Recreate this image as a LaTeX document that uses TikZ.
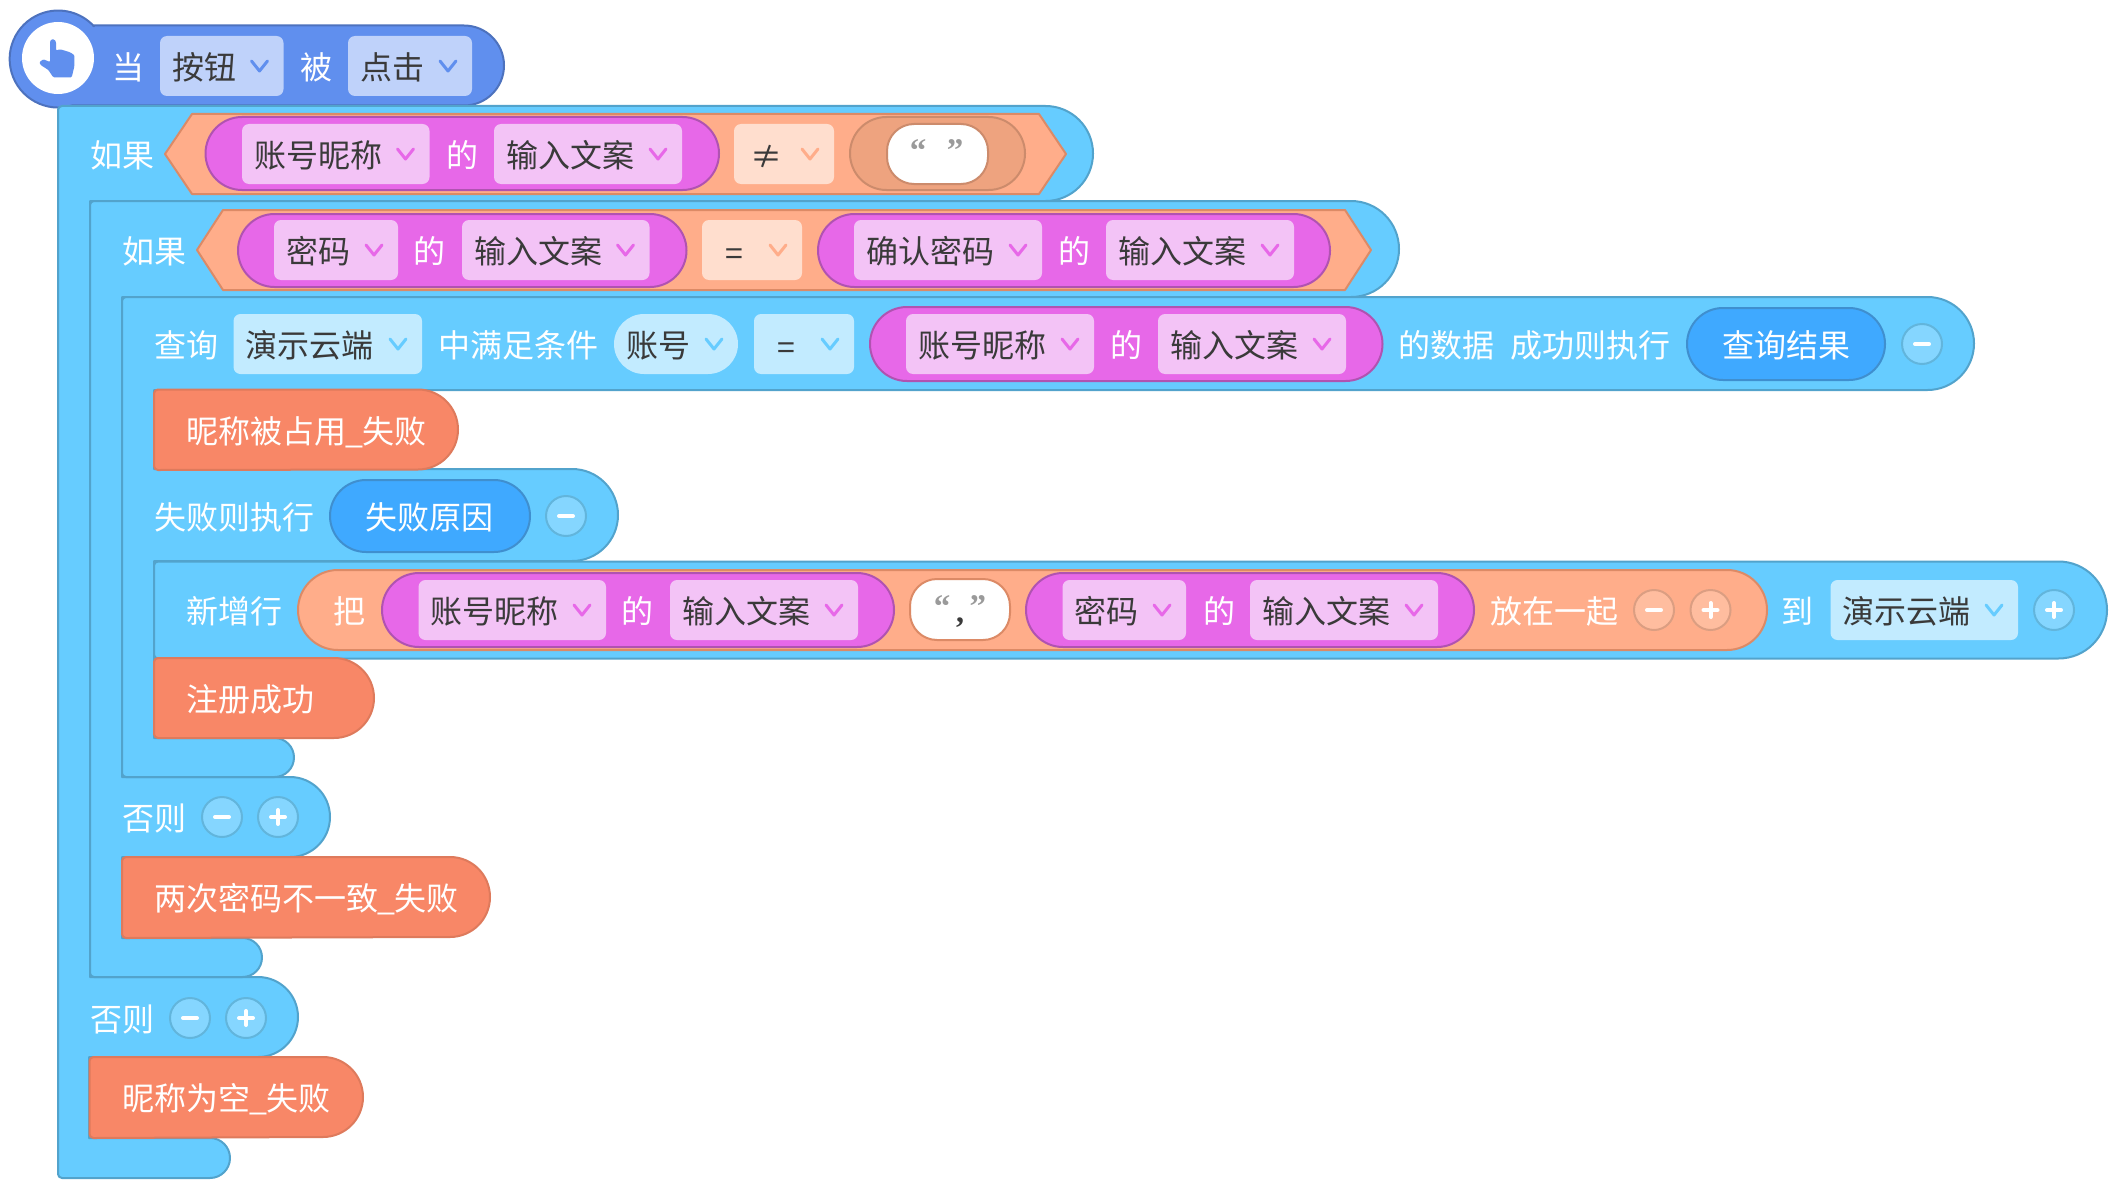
\documentclass[tikz,border=0pt]{standalone}
\usepackage{fontspec}
\setmainfont{Noto Sans CJK SC}
\newfontfamily\quotefont{Liberation Serif}
\definecolor{blockfill}{HTML}{66CCFF}
\definecolor{blockline}{HTML}{52A3CC}
\definecolor{hatfill}{HTML}{608FEE}
\definecolor{hatline}{HTML}{4D72BE}
\definecolor{hatdrop}{HTML}{BFD2FA}
\definecolor{orangefill}{HTML}{F88767}
\definecolor{orangeline}{HTML}{DE7A5C}
\definecolor{peachfill}{HTML}{FFAD8A}
\definecolor{peachline}{HTML}{DC8A66}
\definecolor{peachdrop}{HTML}{FFDECE}
\definecolor{peachdark}{HTML}{EEA37F}
\definecolor{peachdarkline}{HTML}{CC8B6C}
\definecolor{magfill}{HTML}{E768E8}
\definecolor{magline}{HTML}{B053B1}
\definecolor{magdrop}{HTML}{F3C3F6}
\definecolor{lightdrop}{HTML}{C2EBFF}
\definecolor{varfill}{HTML}{3FA9FF}
\definecolor{varline}{HTML}{3F8FCF}
\definecolor{btnfill}{HTML}{85D6FF}
\definecolor{btnline}{HTML}{62B5DC}
\definecolor{btnpeach}{HTML}{FFBD9F}
\definecolor{btnpeachline}{HTML}{DB9E82}
\definecolor{ink}{HTML}{3A3A3A}
\definecolor{quotegray}{HTML}{9A9A9A}
\newcounter{nd}
\tikzset{
  block/.style={fill=blockfill,draw=blockline,line width=2pt,line join=round},
  orangeblock/.style={fill=orangefill,draw=orangeline,line width=2pt,line join=round},
  hatblock/.style={fill=hatfill,draw=hatline,line width=2pt,line join=round},
  peachhex/.style={fill=peachfill,draw=peachline,line width=2pt,line join=round},
  magpill/.style={fill=magfill,draw=magline,line width=2pt},
  varpill/.style={fill=varfill,draw=varline,line width=2pt},
  lbl/.style={inner sep=0pt,text height=29.5pt,text depth=3pt,font=\fontsize{32}{32}\selectfont},
  quotemark/.style={inner sep=0pt,anchor=base,text=quotegray,font=\quotefont\bfseries\fontsize{33}{33}\selectfont},
  semi/.style={insert path={arc[start angle=-90,end angle=90,radius=#1]}},
  bl/.style={insert path={arc[start angle=90,end angle=180,radius=#1]}},
  tl/.style={insert path={arc[start angle=180,end angle=270,radius=#1]}},
}
% white label centred at x,y
\newcommand{\wlab}[3]{\stepcounter{nd}\node[lbl,text=white] (n\thend) at (#1,#2) {#3};}
% dropdown box: x1,x2,cy,bg,chevron colour,text
\newcommand{\dd}[6]{\fill[#4,rounded corners=7pt] (#1,{#3-30}) rectangle (#2,{#3+30});
  \stepcounter{nd}\node[lbl,text=ink,anchor=west] (n\thend) at ({#1+12},#3) {#6};
  \draw[#5,line width=3pt,line cap=round,line join=round] ({#2-32},{#3-5}) -- ({#2-24},{#3+5}) -- ({#2-16},{#3-5});}
% operator dropdown: x1,x2,cy,bg,chevron colour,text,text centre x,text centre y
\newcommand{\opd}[8]{\fill[#4,rounded corners=7pt] (#1,{#3-30}) rectangle (#2,{#3+30});
  \stepcounter{nd}\node[lbl,text=ink] (n\thend) at (#7,#8) {#6};
  \draw[#5,line width=3pt,line cap=round,line join=round] ({#2-32},{#3-5}) -- ({#2-24},{#3+5}) -- ({#2-16},{#3-5});}
% plain +/- buttons
\newcommand{\minusb}[4]{\draw[fill=#3,draw=#4,line width=2pt] (#1,#2) circle[radius=20];
  \draw[white,line width=4pt,line cap=round] ({#1-7},#2) -- ({#1+7},#2);}
\newcommand{\plusb}[4]{\draw[fill=#3,draw=#4,line width=2pt] (#1,#2) circle[radius=20];
  \draw[white,line width=4pt,line cap=round] ({#1-7},#2) -- ({#1+7},#2) ({#1},{#2-7}) -- ({#1},{#2+7});}
% orange block: x1,x2,y1,y2,text,text x
\newcommand{\oblock}[6]{\draw[orangeblock] ({#1+4},#3) -- ({#2-40},#3) [semi=40] -- ({#1+4},#4) [bl=4] -- ({#1},{#3+4}) [tl=4] -- cycle;
  \stepcounter{nd}\node[lbl,text=white,anchor=west] (n\thend) at (#6,{(#3+#4)/2}) {#5};}
\newcommand{\us}{\kern-1pt\_\kern-1pt}
\begin{document}
\begin{tikzpicture}[x=1pt,y=-1pt]
\useasboundingbox (0,0) rectangle (2116,1188);
\fill[white] (0,0) rectangle (2116,1188);
% hat block
\draw[hatblock] (94,25.5) -- (464,25.5) [semi=40] -- (72,105.5)
  arc[start angle=73.4,end angle=317.5,radius=48.5] -- cycle;
\fill[white] (58,58) circle[radius=36];
\fill[hatfill,rounded corners=1pt] (51,39.5) -- (54.5,39.5) -- (56,42) -- (56,50.5) -- (60,49.3) -- (65,50.7) -- (70,52.3) -- (74.3,55) -- (74.3,66.7) -- (71.7,77.3) -- (53.3,77.3) -- (48.3,70) -- (40.7,65) -- (39.3,62.3) -- (43.3,59.3) -- (50,62) -- (50,42) -- cycle;
\wlab{128}{66}{当}
\dd{160}{283.5}{66}{hatdrop}{hatfill}{按钮}
\wlab{316}{66}{被}
\dd{348}{472}{66}{hatdrop}{hatfill}{点击}
% outer if block
\draw[block] (62,106) -- (1045.5,106) [semi=47.5] -- (90,201) -- (90,977) -- (258,977) [semi=40] -- (89,1057) -- (89,1138) -- (210,1138) [semi=20] -- (62,1178) [bl=4] -- (58,110) [tl=4] -- cycle;
\oblock{89.5}{363}{1057}{1138}{昵称为空\us 失败}{122}
\wlab{122}{154}{如果}
\draw[peachhex] (192,114) -- (1039,114) -- (1066,154) -- (1039,194) -- (192,194) -- (165,154) -- cycle;
\draw[magpill,rounded corners=36.5pt] (205.5,117) rectangle (719,190);
\dd{242}{429.5}{154}{magdrop}{magfill}{账号昵称}
\wlab{462}{154}{的}
\dd{494}{682}{154}{magdrop}{magfill}{输入文案}
\opd{734}{834}{154}{peachdrop}{peachfill}{≠}{766}{155}
\draw[fill=peachdark,draw=peachdarkline,line width=2pt,rounded corners=36.5pt] (850,117) rectangle (1025,190);
\draw[fill=white,draw=peachdarkline,line width=2pt,rounded corners=27pt] (887,124) rectangle (988,184);
\stepcounter{nd}\node[quotemark] (n\thend) at (918,161.5) {“};
\stepcounter{nd}\node[quotemark] (n\thend) at (955,161.5) {”};
% if2 block
\draw[block] (94,201) -- (1351,201) [semi=48] -- (122,297) -- (122,777) -- (290,777) [semi=40] -- (122,857) -- (122,938) -- (242.5,938) [semi=19.5] -- (94,977) [bl=4] -- (90,205) [tl=4] -- cycle;
\oblock{122}{490}{857}{938}{两次密码不一致\us 失败}{154}
\wlab{154}{250}{如果}
\draw[peachhex] (223,210) -- (1345,210) -- (1371,250) -- (1345,290) -- (223,290) -- (197,250) -- cycle;
\draw[magpill,rounded corners=36.5pt] (238,214) rectangle (686.5,287);
\dd{274}{398}{250}{magdrop}{magfill}{密码}
\wlab{429.5}{250}{的}
\dd{462}{649.5}{250}{magdrop}{magfill}{输入文案}
\opd{702}{802}{250}{peachdrop}{peachfill}{=}{734.5}{252}
\draw[magpill,rounded corners=36.5pt] (818,214) rectangle (1330,287);
\dd{854}{1042}{250}{magdrop}{magfill}{确认密码}
\wlab{1074}{250}{的}
\dd{1106}{1294}{250}{magdrop}{magfill}{输入文案}
\wlab{154}{817}{否则}
\minusb{222}{817}{btnfill}{btnline}
\plusb{278}{817}{btnfill}{btnline}
\wlab{122}{1018}{否则}
\minusb{190}{1018}{btnfill}{btnline}
\plusb{246}{1018}{btnfill}{btnline}
% query block
\draw[block] (126,297) -- (1927.5,297) [semi=46.5] -- (154,390) -- (154,469) -- (572,469) [semi=46] -- (154,561) -- (154,738) -- (274.5,738) [semi=19.5] -- (126,777) [bl=4] -- (122,301) [tl=4] -- cycle;
\oblock{154}{458}{389.5}{470}{昵称被占用\us 失败}{186}
\wlab{186}{344}{查询}
\dd{233.5}{422}{344}{lightdrop}{blockfill}{演示云端}
\wlab{518.5}{344}{中满足条件}
\fill[lightdrop,rounded corners=30pt] (614,314) rectangle (738,374);
\stepcounter{nd}\node[lbl,text=ink,anchor=west] (n\thend) at (626,344) {账号};
\draw[blockfill,line width=3pt,line cap=round,line join=round] (706,339) -- (714,349) -- (722,339);
\opd{754}{854}{344}{lightdrop}{blockfill}{=}{786.5}{346}
\draw[magpill,rounded corners=37pt] (870,307) rectangle (1382.5,381);
\dd{906}{1094}{344}{magdrop}{magfill}{账号昵称}
\wlab{1126}{344}{的}
\dd{1158}{1346}{344}{magdrop}{magfill}{输入文案}
\wlab{1446}{344}{的数据}
\wlab{1590}{344}{成功则执行}
\draw[varpill,rounded corners=36pt] (1687,308) rectangle (1885,380);
\wlab{1786}{344}{查询结果}
\minusb{1922}{344}{btnfill}{btnline}
\wlab{234.5}{516}{失败则执行}
\draw[varpill,rounded corners=36pt] (330,480) rectangle (530,552);
\wlab{429.5}{516}{失败原因}
\minusb{566}{516}{btnfill}{btnline}
% add row block
\draw[block] (158,561.5) -- (2058.5,561.5) [semi=48.5] -- (158,658.5) [bl=4] -- (154,565.5) [tl=4] -- cycle;
\oblock{154}{374}{658}{738}{注册成功}{186}
\wlab{234}{610}{新增行}
\draw[fill=peachfill,draw=peachline,line width=2pt,rounded corners=40pt] (298,570) rectangle (1767,650);
\wlab{349.5}{610}{把}
\draw[magpill,rounded corners=37pt] (382,573) rectangle (894,647);
\dd{418.5}{606}{610}{magdrop}{magfill}{账号昵称}
\wlab{637}{610}{的}
\dd{670}{858}{610}{magdrop}{magfill}{输入文案}
\draw[fill=white,draw=peachline,line width=2pt,rounded corners=27pt] (910,579) rectangle (1010,640);
\stepcounter{nd}\node[quotemark] (n\thend) at (960,617.5) {“\kern5.6pt\raisebox{-4.5pt}{\textcolor{ink}{\fontsize{32}{32}\selectfont ,}}\kern5.6pt”};
\draw[magpill,rounded corners=37pt] (1026,573) rectangle (1474,647);
\dd{1062.5}{1186}{610}{magdrop}{magfill}{密码}
\wlab{1219}{610}{的}
\dd{1250}{1438}{610}{magdrop}{magfill}{输入文案}
\wlab{1554}{610}{放在一起}
\minusb{1654}{610}{btnpeach}{btnpeachline}
\plusb{1710.5}{610}{btnpeach}{btnpeachline}
\wlab{1797}{610}{到}
\dd{1830.5}{2018}{610}{lightdrop}{blockfill}{演示云端}
\plusb{2054}{610}{btnfill}{btnline}
\end{tikzpicture}
\end{document}
